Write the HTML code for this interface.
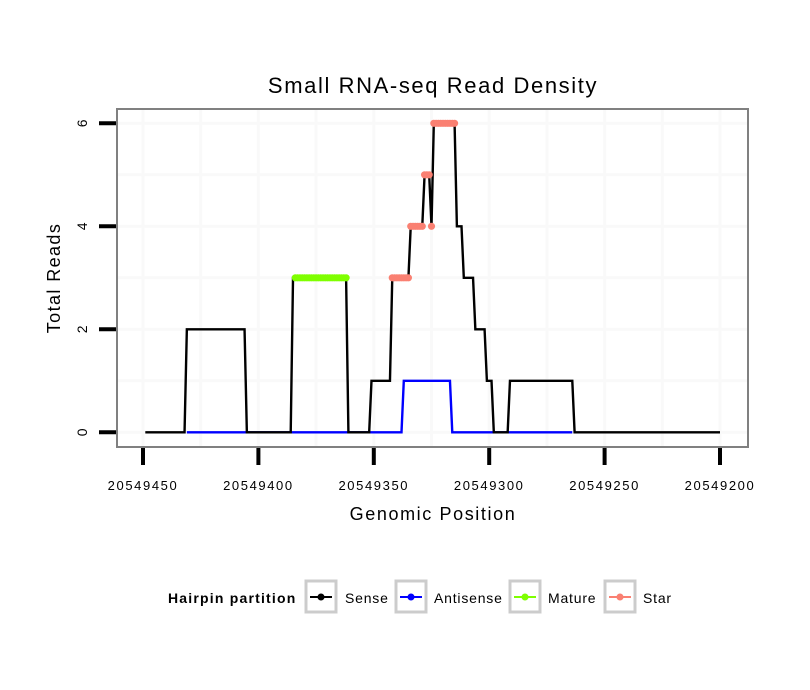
<!DOCTYPE html>
<html><head><meta charset="utf-8"><style>
body{margin:0;background:#fff;}
svg{display:block;font-family:"Liberation Sans",sans-serif;}
</style></head><body>
<svg id="chart" width="810" height="690">
<rect x="0" y="0" width="810" height="690" fill="#fff"/>
<text x="433" y="93" font-size="22" letter-spacing="1.6" text-anchor="middle">Small RNA-seq Read Density</text>
<rect x="117" y="109" width="631" height="338" fill="#fff"/>
<g id="grid"></g>
<g id="series"></g>
<rect x="117" y="109" width="631" height="338" fill="none" stroke="#808080" stroke-width="2"/>
<g id="axes"></g>
<text x="433" y="520" font-size="18" letter-spacing="1.6" text-anchor="middle">Genomic Position</text>
<text transform="translate(60,278) rotate(-90)" font-size="18" letter-spacing="1.4" text-anchor="middle">Total Reads</text>
<g>
<text x="168" y="603" font-size="14" letter-spacing="1.2" font-weight="bold">Hairpin partition</text>
<g>
<rect x="306" y="581" width="30" height="31" fill="#fff" stroke="#ccc" stroke-width="3"/>
<line x1="310" y1="597" x2="332" y2="597" stroke="#000" stroke-width="2"/><circle cx="321" cy="597" r="3.5" fill="#000"/>
<text x="345" y="603" font-size="14" letter-spacing="0.8">Sense</text></g>
<g>
<rect x="396" y="581" width="30" height="31" fill="#fff" stroke="#ccc" stroke-width="3"/>
<line x1="400" y1="597" x2="422" y2="597" stroke="#0000ff" stroke-width="2"/><circle cx="411" cy="597" r="3.5" fill="#0000ff"/>
<text x="434" y="603" font-size="14" letter-spacing="0.8">Antisense</text></g>
<g>
<rect x="510" y="581" width="30" height="31" fill="#fff" stroke="#ccc" stroke-width="3"/>
<line x1="514" y1="597" x2="536" y2="597" stroke="#7fff00" stroke-width="2"/><circle cx="525" cy="597" r="3.5" fill="#7fff00"/>
<text x="548" y="603" font-size="14" letter-spacing="0.8">Mature</text></g>
<g>
<rect x="605" y="581" width="30" height="31" fill="#fff" stroke="#ccc" stroke-width="3"/>
<line x1="609" y1="597" x2="631" y2="597" stroke="#fa8072" stroke-width="2"/><circle cx="620" cy="597" r="3.5" fill="#fa8072"/>
<text x="643" y="603" font-size="14" letter-spacing="0.8">Star</text></g>
</g>
</svg>
<script>
// runs: [startPos, endPos, value] (positions descending)
const senseRuns=[[20549449,20549432,0],[20549431,20549406,2],[20549405,20549386,0],[20549385,20549362,3],[20549361,20549352,0],[20549351,20549343,1],[20549342,20549335,3],[20549334,20549329,4],[20549328,20549326,5],[20549325,20549325,4],[20549324,20549315,6],[20549314,20549312,4],[20549311,20549307,3],[20549306,20549302,2],[20549301,20549299,1],[20549298,20549292,0],[20549291,20549264,1],[20549263,20549200,0]];
const antisenseRuns=[[20549431,20549338,0],[20549337,20549317,1],[20549316,20549264,0]];
const matureRuns=[[20549384,20549362,3]];
const starRuns=[[20549342,20549335,3],[20549334,20549329,4],[20549328,20549326,5],[20549325,20549325,4],[20549324,20549315,6]];
const xTicks=[20549450,20549400,20549350,20549300,20549250,20549200];
const yTicks=[0,2,4,6];
const NS='http://www.w3.org/2000/svg';
const X=p=>143+(20549450-p)*577/250;
const Y=v=>432.3-v*(309/6);
function mk(tag,attrs,parent){const e=document.createElementNS(NS,tag);for(const k in attrs)e.setAttribute(k,attrs[k]);parent.appendChild(e);return e;}
function expand(runs){const pts=[];runs.forEach(r=>{for(let p=r[0];p>=r[1];p--)pts.push([p,r[2]]);});return pts;}
const grid=document.getElementById('grid'),series=document.getElementById('series'),axes=document.getElementById('axes');
for(let p=20549475;p>=20549175;p-=25){const x=X(p);if(x<118||x>747)continue;
 const l=mk('line',{x1:x,x2:x,y1:110,y2:446,stroke:'#f9f9f9','stroke-width':3},grid);
 
 }
for(let v=0;v<=6;v++){const y=Y(v);
 const l=mk('line',{x1:118,x2:747,y1:y,y2:y,stroke:'#f9f9f9','stroke-width':3},grid);
 
 }
function line(runs,color,name){const pts=expand(runs);
 const pl=mk('polyline',{points:pts.map(q=>X(q[0]).toFixed(2)+','+Y(q[1]).toFixed(2)).join(' '),fill:'none',stroke:color,'stroke-width':2.4,'stroke-linejoin':'miter'},series);
 
 }
function dots(runs,color,name){const pts=expand(runs);pts.forEach(q=>{
 const c=mk('circle',{cx:X(q[0]),cy:Y(q[1]),r:3.6,fill:color},series);
 
 });}
line(antisenseRuns,'#0000ff','antisense-line');
line(senseRuns,'#000','sense-line');
dots(matureRuns,'#7fff00','mature-point');
dots(starRuns,'#fa8072','star-point');
xTicks.forEach(p=>{const x=X(p);
 const t=mk('line',{x1:x,x2:x,y1:448,y2:465,stroke:'#000','stroke-width':4},axes);
 
 
 const s=mk('text',{x:x,y:490,'font-size':13,'letter-spacing':1.6,'text-anchor':'middle'},axes);s.textContent=p;
 
 });
yTicks.forEach(v=>{const y=Y(v);
 const t=mk('line',{x1:99,x2:116,y1:y,y2:y,stroke:'#000','stroke-width':4},axes);
 
 
 const s=mk('text',{transform:'translate(87,'+y+') rotate(-90)','font-size':14,'text-anchor':'middle'},axes);s.textContent=v;
 
 });
</script>
</body></html>
